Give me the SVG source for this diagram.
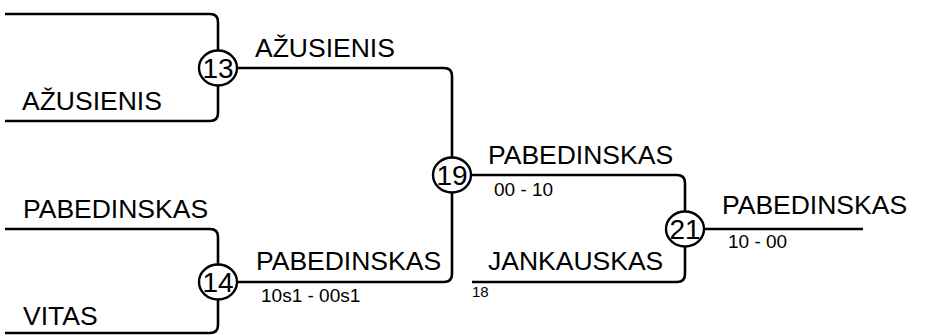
<svg xmlns="http://www.w3.org/2000/svg" width="939" height="336" viewBox="0 0 939 336">
<style>
.ln{fill:none;stroke:#000;stroke-width:2.6}
.nd{fill:#fff;stroke:#000;stroke-width:2.4}
.t{font-family:"Liberation Sans",Arial,sans-serif;font-size:26.5px;fill:#000}
.s{font-family:"Liberation Sans",Arial,sans-serif;font-size:19px;fill:#000}
.xs{font-family:"Liberation Sans",Arial,sans-serif;font-size:15px;fill:#000}
.n{font-family:"Liberation Sans",Arial,sans-serif;font-size:28px;fill:#000;text-anchor:middle}
</style>
<rect width="939" height="336" fill="#fff"/>
<g id="connectors">
<path class="ln" d="M5 14 H210 Q218 14 218 22 V113 Q218 121 210 121 H5"/>
<path class="ln" d="M5 229 H210 Q218 229 218 237 V325 Q218 333 210 333 H5"/>
<path class="ln" d="M218 68 H444 Q452 68 452 76 V274 Q452 282 444 282 H218"/>
<path class="ln" d="M452 175 H677 Q685 175 685 183 V274 Q685 282 677 282 H472"/>
<path class="ln" d="M685 229 H863"/>
</g>
<g id="labels">
<text class="t" x="255" y="57">AŽUSIENIS</text>
<text class="t" x="22" y="110">AŽUSIENIS</text>
<text class="t" x="23" y="218">PABEDINSKAS</text>
<text class="t" x="23" y="325">VITAS</text>
<text class="t" x="256" y="270">PABEDINSKAS</text>
<text class="s" x="261" y="302">10s1 - 00s1</text>
<text class="t" x="488" y="164">PABEDINSKAS</text>
<text class="s" x="494" y="196">00 - 10</text>
<text class="t" x="488" y="270">JANKAUSKAS</text>
<text class="xs" x="472" y="297">18</text>
<text class="t" x="722" y="214">PABEDINSKAS</text>
<text class="s" x="728" y="248">10 - 00</text>
</g>
<g id="node13"><ellipse class="nd" cx="218" cy="68" rx="19" ry="17.5"/><text class="n" x="218" y="78">13</text></g>
<g id="node14"><ellipse class="nd" cx="218" cy="282" rx="19" ry="17.5"/><text class="n" x="218" y="292">14</text></g>
<g id="node19"><ellipse class="nd" cx="452" cy="175" rx="19" ry="17.5"/><text class="n" x="452" y="185">19</text></g>
<g id="node21"><ellipse class="nd" cx="685" cy="229" rx="19" ry="17.5"/><text class="n" x="685" y="239">21</text></g>
</svg>
